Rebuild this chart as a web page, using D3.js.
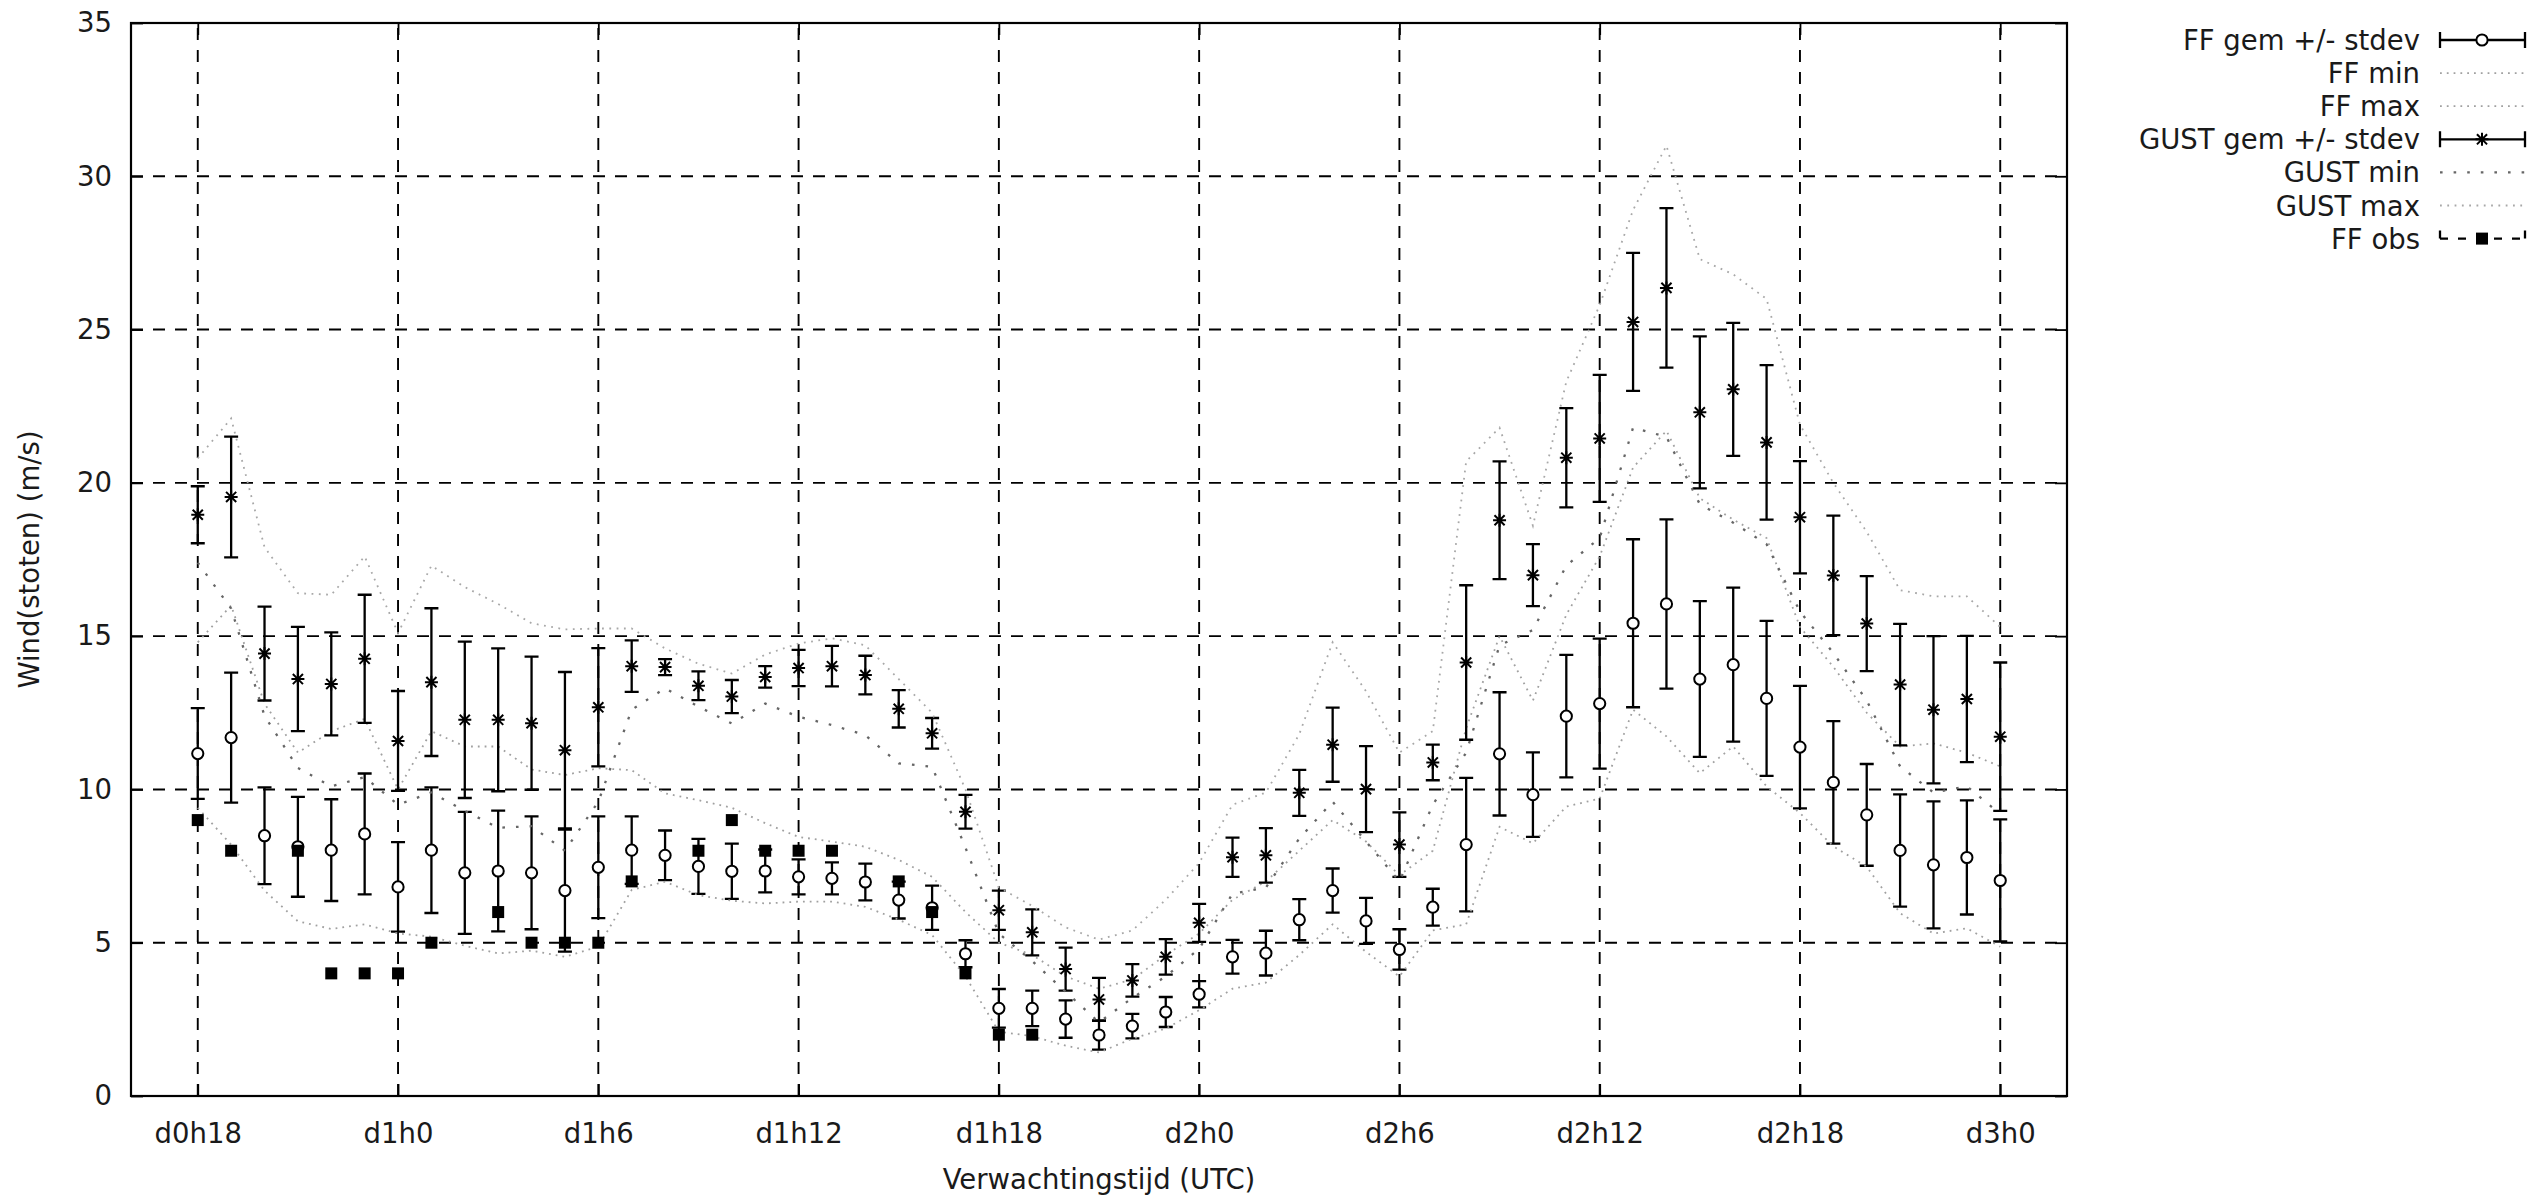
<!DOCTYPE html>
<html>
<head>
<meta charset="utf-8">
<script src="https://cdn.jsdelivr.net/npm/d3@7"></script>
<style>
  html, body { margin: 0; padding: 0; background: #fff; }
  svg { display: block; font-family: 'DejaVu Sans', sans-serif; }
</style>
</head>
<body>
<svg id="chart" width="2540" height="1196"></svg>
<script>
// forecast hours (d0h18 .. d3h0)
const hours = [18, 19, 20, 21, 22, 23, 24, 25, 26, 27, 28, 29, 30, 31, 32, 33, 34, 35, 36, 37,
  38, 39, 40, 41, 42, 43, 44, 45, 46, 47, 48, 49, 50, 51, 52, 53, 54, 55, 56, 57,
  58, 59, 60, 61, 62, 63, 64, 65, 66, 67, 68, 69, 70, 71, 72]

const ffMean = [11.17, 11.69, 8.49, 8.13, 8.02, 8.55, 6.82, 8.02, 7.28, 7.34,
  7.28, 6.70, 7.46, 8.02, 7.85, 7.49, 7.33, 7.34, 7.15, 7.10,
  6.98, 6.39, 6.14, 4.64, 2.86, 2.86, 2.51, 1.99, 2.28, 2.74,
  3.32, 4.54, 4.66, 5.75, 6.70, 5.71, 4.78, 6.16, 8.20, 11.16,
  9.83, 12.39, 12.80, 15.42, 16.05, 13.60, 14.07, 12.97, 11.38, 10.23,
  9.17, 8.01, 7.54, 7.78, 7.03]
const ffStdev = [1.48, 2.12, 1.58, 1.63, 1.66, 1.97, 1.46, 2.05, 1.99, 1.97,
  1.84, 1.99, 1.66, 1.10, 0.81, 0.90, 0.90, 0.70, 0.57, 0.52,
  0.60, 0.60, 0.72, 0.44, 0.63, 0.58, 0.61, 0.48, 0.40, 0.49,
  0.43, 0.55, 0.73, 0.67, 0.72, 0.75, 0.66, 0.60, 2.18, 2.01,
  1.38, 2.00, 2.12, 2.74, 2.76, 2.54, 2.51, 2.53, 2.00, 2.00,
  1.66, 1.83, 2.07, 1.86, 1.99]
const ffMin = [9.4, 8.2, 6.7, 5.7, 5.45, 5.6, 5.3, 5.2, 4.9, 4.65,
  4.74, 4.54, 4.87, 6.72, 6.99, 6.55, 6.37, 6.28, 6.34, 6.34,
  6.17, 5.75, 5.25, 3.9, 2.1, 1.95, 1.64, 1.42, 1.87, 2.2,
  2.8, 3.5, 3.7, 4.6, 5.6, 4.7, 3.9, 5.4, 5.6, 8.78,
  8.24, 9.44, 9.7, 12.6, 11.73, 10.53, 11.4, 10.1, 9.23, 8.14,
  7.48, 5.96, 5.3, 5.47, 4.87]
const ffMax = [14.8, 16.0, 12.8, 11.2, 11.9, 12.3, 10.0, 11.9, 11.4, 11.4,
  10.65, 10.47, 10.69, 10.63, 9.87, 9.65, 9.4, 8.9, 8.45, 8.3,
  8.13, 7.7, 7.15, 6.0, 5.0, 4.6, 3.9, 3.5, 3.8, 4.6,
  5.3, 6.4, 7.0, 8.0, 9.0, 8.3, 7.2, 8.0, 12.0, 15.0,
  12.9, 15.7, 17.6, 20.5, 21.7, 19.5, 18.8, 18.2, 15.3, 14.0,
  12.5, 11.4, 11.5, 11.2, 10.75]

const gustMean = [18.96, 19.54, 14.43, 13.60, 13.44, 14.26, 11.58, 13.50, 12.27, 12.27,
  12.16, 11.28, 12.68, 14.02, 13.99, 13.38, 13.03, 13.67, 13.96, 14.02,
  13.73, 12.63, 11.83, 9.27, 6.06, 5.34, 4.14, 3.15, 3.77, 4.54,
  5.65, 7.79, 7.85, 9.89, 11.46, 10.01, 8.20, 10.88, 14.14, 18.78,
  16.99, 20.82, 21.45, 25.25, 26.36, 22.30, 23.05, 21.32, 18.88, 16.98,
  15.41, 13.42, 12.60, 12.95, 11.72]
const gustStdev = [0.93, 1.97, 1.53, 1.70, 1.68, 2.09, 1.63, 2.41, 2.55, 2.33,
  2.17, 2.55, 1.93, 0.84, 0.26, 0.47, 0.54, 0.35, 0.59, 0.66,
  0.63, 0.61, 0.50, 0.55, 0.64, 0.75, 0.70, 0.70, 0.53, 0.58,
  0.62, 0.64, 0.89, 0.75, 1.21, 1.40, 1.05, 0.58, 2.52, 1.92,
  1.01, 1.62, 2.07, 2.25, 2.60, 2.48, 2.17, 2.52, 1.83, 1.95,
  1.55, 1.98, 2.40, 2.06, 2.42]
const gustMin = [17.4, 15.9, 12.4, 10.7, 10.1, 10.4, 9.5, 9.9, 9.3, 8.75,
  8.8, 8.0, 9.6, 12.6, 13.3, 12.7, 12.15, 12.8, 12.37, 12.1,
  11.77, 10.85, 10.74, 8.1, 5.3, 4.4, 3.4, 2.4, 3.2, 3.9,
  4.8, 6.6, 6.8, 8.4, 9.6, 8.3, 7.0, 9.5, 11.2, 14.7,
  15.2, 17.3, 18.2, 21.8, 21.5, 19.3, 18.7, 18.0, 15.8, 14.45,
  12.9, 10.75, 9.9, 10.1, 9.2]
const gustMax = [20.8, 22.1, 17.9, 16.4, 16.35, 17.6, 15.1, 17.3, 16.6, 16.05,
  15.42, 15.22, 15.25, 15.25, 14.6, 14.1, 13.78, 14.4, 14.76, 14.93,
  14.7, 13.6, 12.5, 10.0, 6.8, 6.2, 5.5, 5.1, 5.4, 6.4,
  7.6, 9.5, 9.9, 11.8, 14.8, 13.2, 11.2, 11.9, 20.7, 21.8,
  18.6, 23.3, 25.8, 28.9, 31.0, 27.3, 26.8, 26.0, 21.9, 20.0,
  18.4, 16.5, 16.3, 16.3, 15.3]

// observations only exist for part of the period
const obsHours = [18, 19, 21, 22, 23, 24, 25, 27, 28, 29, 30, 31, 33, 34, 35, 36, 37, 39, 40, 41, 42, 43]
const obsValues = [9, 8, 8, 4, 4, 4, 5, 6, 5, 5, 5, 7, 8, 9, 8, 8, 8, 7, 6, 4, 2, 2]

const tickHours = [18, 24, 30, 36, 42, 48, 54, 60, 66, 72]
const tickLabels = ['d0h18', 'd1h0', 'd1h6', 'd1h12', 'd1h18', 'd2h0', 'd2h6', 'd2h12', 'd2h18', 'd3h0']
const yTicks = [0, 5, 10, 15, 20, 25, 30, 35]
const legendLabels = ['FF gem +/- stdev', 'FF min', 'FF max', 'GUST gem +/- stdev', 'GUST min', 'GUST max', 'FF obs']

const svg = d3.select('#chart')
const dims = { left: 131, right: 2067, top: 23, bottom: 1096 }
const fontSize = '27.5px'
const textColor = '#1a1a1a'

const x = d3.scaleLinear().domain([16, 74]).range([dims.left, dims.right])
const y = d3.scaleLinear().domain([0, 35]).range([dims.bottom, dims.top])

const styles = {
  ffMin: { stroke: '#a0a0a0', width: 1.8, dash: '1.8,5' },
  ffMax: { stroke: '#a0a0a0', width: 1.8, dash: '1.8,5' },
  gustMin: { stroke: '#666', width: 2.3, dash: '2.6,11' },
  gustMax: { stroke: '#a8a8a8', width: 1.8, dash: '1.8,5.5' }
}

// star = plus + cross, like gnuplot's pt 3
const symbolStar = {
  draw(ctx, size) {
    const r = Math.sqrt(size) / 2
    const d = r * 0.78
    ctx.moveTo(-r, 0); ctx.lineTo(r, 0)
    ctx.moveTo(0, -r); ctx.lineTo(0, r)
    ctx.moveTo(-d, -d); ctx.lineTo(d, d)
    ctx.moveTo(-d, d); ctx.lineTo(d, -d)
  }
}
const circlePath = d3.symbol().type(d3.symbolCircle).size(Math.PI * 5.6 * 5.6)()
const starPath = d3.symbol().type(symbolStar).size(13 * 13)()
const squarePath = d3.symbol().type(d3.symbolSquare).size(12 * 12)()

// grid
const grid = svg.append('g')
  .attr('stroke', '#000')
  .attr('stroke-width', 1.9)
  .attr('stroke-dasharray', '12,10')
grid.selectAll('.grid-x')
  .data(tickHours)
  .enter()
  .append('line')
  .attr('x1', d => x(d))
  .attr('x2', d => x(d))
  .attr('y1', dims.bottom)
  .attr('y2', dims.top)
grid.selectAll('.grid-y')
  .data(yTicks.filter(v => v > 0 && v < 35))
  .enter()
  .append('line')
  .attr('x1', dims.left)
  .attr('x2', dims.right)
  .attr('y1', d => y(d))
  .attr('y2', d => y(d))

// axes (ticks point inward, mirrored like gnuplot)
const styleAxis = g => {
  g.select('.domain').remove()
  g.attr('font-family', null).attr('font-size', null)
  g.selectAll('line').attr('stroke', '#000').attr('stroke-width', 1.8)
  g.selectAll('text').attr('fill', textColor).style('font-size', fontSize)
}
svg.append('g')
  .attr('transform', `translate(${dims.left},0)`)
  .call(d3.axisLeft(y).tickValues(yTicks).tickSize(-12).tickPadding(19))
  .call(styleAxis)
svg.append('g')
  .attr('transform', `translate(${dims.right},0)`)
  .call(d3.axisRight(y).tickValues(yTicks).tickSize(-12).tickFormat(''))
  .call(styleAxis)
svg.append('g')
  .attr('transform', `translate(0,${dims.bottom})`)
  .call(d3.axisBottom(x).tickValues(tickHours).tickSize(-12).tickPadding(27.5)
    .tickFormat((d, i) => tickLabels[i]))
  .call(styleAxis)
svg.append('g')
  .attr('transform', `translate(0,${dims.top})`)
  .call(d3.axisTop(x).tickValues(tickHours).tickSize(-12).tickFormat(''))
  .call(styleAxis)

svg.append('rect')
  .attr('x', dims.left)
  .attr('y', dims.top)
  .attr('width', dims.right - dims.left)
  .attr('height', dims.bottom - dims.top)
  .attr('fill', 'none')
  .attr('stroke', '#000')
  .attr('stroke-width', 2.2)

// axis titles
svg.append('text')
  .attr('x', (dims.left + dims.right) / 2)
  .attr('y', 1189)
  .attr('text-anchor', 'middle')
  .attr('fill', textColor)
  .style('font-size', fontSize)
  .text('Verwachtingstijd (UTC)')
svg.append('text')
  .attr('transform', `translate(39,${(dims.top + dims.bottom) / 2}) rotate(-90)`)
  .attr('text-anchor', 'middle')
  .attr('fill', textColor)
  .style('font-size', fontSize)
  .text('Wind(stoten) (m/s)')

const plot = svg.append('g')

const renderErrorBars = (means, stdevs, markPath, markFill) => {
  const data = hours.map((h, i) => ({ h, m: means[i], s: stdevs[i] }))
  const g = plot.append('g')
  g.selectAll('path.bar')
    .data(data)
    .enter()
    .append('path')
    .attr('class', 'bar')
    .attr('d', d => {
      const cx = x(d.h), y1 = y(d.m + d.s), y2 = y(d.m - d.s)
      return `M${cx},${y1}V${y2}M${cx - 7},${y1}H${cx + 7}M${cx - 7},${y2}H${cx + 7}`
    })
    .attr('fill', 'none')
    .attr('stroke', '#000')
    .attr('stroke-width', 2.3)
  g.selectAll('path.mark')
    .data(data)
    .enter()
    .append('path')
    .attr('class', 'mark')
    .attr('d', markPath)
    .attr('transform', d => `translate(${x(d.h)},${y(d.m)})`)
    .attr('fill', markFill)
    .attr('stroke', '#000')
    .attr('stroke-width', 2)
}

const renderDotted = (values, style) => {
  const line = d3.line()
    .x((d, i) => x(hours[i]))
    .y(d => y(d))
  plot.append('path')
    .datum(values)
    .attr('d', line)
    .attr('fill', 'none')
    .attr('stroke', style.stroke)
    .attr('stroke-width', style.width)
    .attr('stroke-dasharray', style.dash)
}

renderErrorBars(ffMean, ffStdev, circlePath, '#fff')
renderDotted(ffMin, styles.ffMin)
renderDotted(ffMax, styles.ffMax)
renderErrorBars(gustMean, gustStdev, starPath, 'none')
renderDotted(gustMin, styles.gustMin)
renderDotted(gustMax, styles.gustMax)

plot.append('g')
  .selectAll('path')
  .data(obsHours.map((h, i) => ({ h, v: obsValues[i] })))
  .enter()
  .append('path')
  .attr('d', squarePath)
  .attr('transform', d => `translate(${x(d.h)},${y(d.v)})`)
  .attr('fill', '#000')

// legend
const legend = svg.append('g')
const rowY = i => 40 + i * 33.1
const lx1 = 2440, lx2 = 2525, lmid = 2482
legend.selectAll('text')
  .data(legendLabels)
  .enter()
  .append('text')
  .attr('x', 2420)
  .attr('y', (d, i) => rowY(i) + 10)
  .attr('text-anchor', 'end')
  .attr('fill', textColor)
  .style('font-size', fontSize)
  .text(d => d)

const barSample = cy => `M${lx1},${cy - 8}V${cy + 8}M${lx1},${cy}H${lx2}M${lx2},${cy - 8}V${cy + 8}`
;[0, 3].forEach((row, k) => {
  legend.append('path')
    .attr('d', barSample(rowY(row)))
    .attr('fill', 'none')
    .attr('stroke', '#000')
    .attr('stroke-width', 2.3)
  legend.append('path')
    .attr('d', k === 0 ? circlePath : starPath)
    .attr('transform', `translate(${lmid},${rowY(row)})`)
    .attr('fill', k === 0 ? '#fff' : 'none')
    .attr('stroke', '#000')
    .attr('stroke-width', 2)
})
;[[1, styles.ffMin], [2, styles.ffMax], [4, styles.gustMin], [5, styles.gustMax]].forEach(([row, st]) => {
  legend.append('line')
    .attr('x1', lx1)
    .attr('x2', lx2)
    .attr('y1', rowY(row))
    .attr('y2', rowY(row))
    .attr('stroke', st.stroke)
    .attr('stroke-width', st.width)
    .attr('stroke-dasharray', st.dash)
})
legend.append('path')
  .attr('d', barSample(rowY(6)))
  .attr('fill', 'none')
  .attr('stroke', '#000')
  .attr('stroke-width', 2.3)
  .attr('stroke-dasharray', '8,10')
legend.append('path')
  .attr('d', squarePath)
  .attr('transform', `translate(${lmid},${rowY(6)})`)
  .attr('fill', '#000')
</script>
</body>
</html>
